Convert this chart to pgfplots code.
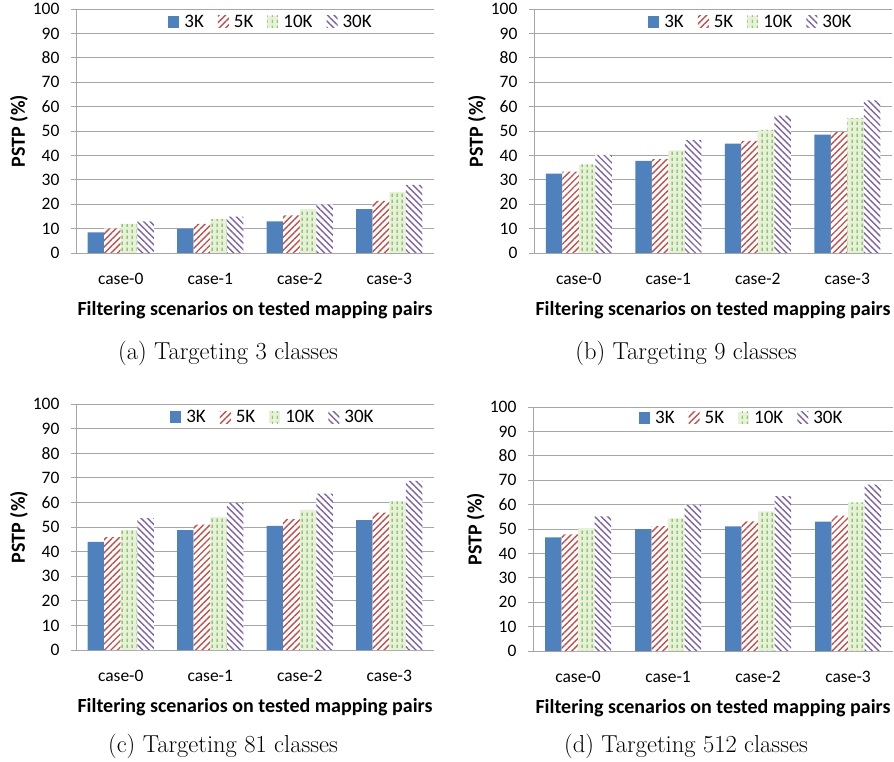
\documentclass[border=0pt]{standalone}
\usepackage{pgfplots}
\pgfplotsset{compat=1.18}
\usepackage{pgfplotstable}
\usepackage{fontspec}
\newfontfamily\carlito{Carlito}
\usetikzlibrary{patterns,patterns.meta}

\definecolor{cblue}{HTML}{4F81BD}
\definecolor{cred}{HTML}{C0504D}
\definecolor{cgreen}{HTML}{5FAE3A}
\definecolor{cgreenl}{HTML}{E6F1D8}
\definecolor{cpurple}{HTML}{8064A2}
\definecolor{cgrid}{HTML}{A6A6A6}

\pgfdeclarepatternformonly{vdash}{\pgfpointorigin}{\pgfqpoint{5pt}{6pt}}{\pgfqpoint{5pt}{6pt}}{%
  \pgfsetlinewidth{1pt}%
  \pgfpathmoveto{\pgfqpoint{2.5pt}{0pt}}%
  \pgfpathlineto{\pgfqpoint{2.5pt}{3.8pt}}%
  \pgfusepath{stroke}}

\pgfplotstableread{
x k3 k5 k10 k30
0 8.5 10.1 11.9 13.0
1 10.0 11.9 13.9 14.9
2 13.0 15.4 18.0 19.9
3 18.0 21.4 25.1 27.9
}\tabA
\pgfplotstableread{
x k3 k5 k10 k30
0 32.5 33.3 36.3 40.2
1 37.8 38.5 42.1 46.3
2 44.8 46.0 50.5 56.3
3 48.5 49.5 55.3 62.6
}\tabB
\pgfplotstableread{
x k3 k5 k10 k30
0 44.0 45.9 48.7 53.6
1 48.7 51.0 54.0 59.8
2 50.5 53.2 57.0 63.6
3 52.8 55.8 60.4 68.8
}\tabC
\pgfplotstableread{
x k3 k5 k10 k30
0 46.6 47.8 50.4 55.2
1 49.9 51.2 54.4 60.0
2 51.1 53.1 57.2 63.5
3 53.0 55.5 60.9 68.2
}\tabD

\pgfplotsset{
  s3k/.style={fill=cblue, draw=none},
  s5k/.style={fill=white, draw=none, postaction={pattern={Lines[angle=45,distance=4.6pt,line width=1.4pt]}, pattern color=cred}},
  s10k/.style={fill=cgreenl, draw=none, postaction={pattern=vdash, pattern color=cgreen}},
  s30k/.style={fill=white, draw=none, postaction={pattern={Lines[angle=-45,distance=4.6pt,line width=1.4pt]}, pattern color=cpurple}},
  myax/.style={
    scale only axis, width=358pt, height=244pt,
    ymin=0, ymax=100, ytick={0,10,...,100},
    xmin=-0.5, xmax=3.5, xtick={0,1,2,3},
    xticklabels={case-0,case-1,case-2,case-3},
    axis x line*=bottom, axis y line*=left,
    axis line style={cgrid, line width=0.9pt, -},
    ymajorgrids, grid style={cgrid, line width=0.9pt},
    major tick length=5pt, tick align=outside,
    xtick style={draw=none}, ytick style={cgrid, line width=0.9pt},
    tick label style={font=\carlito\fontsize{17.5}{20}\selectfont},
    xticklabel style={yshift=-12pt},
    yticklabel style={xshift=-8pt},
    /pgf/number format/assume math mode=true,
    ybar=0pt, bar width=16.5pt,
    xlabel={Filtering scenarios on tested mapping pairs},
    ylabel={PSTP (\%)},
    label style={font=\carlito\bfseries\fontsize{20}{22}\selectfont},
    xlabel style={at={(axis description cs:0.5,-0.234)}, anchor=center},
    ylabel style={at={(axis description cs:-0.159,0.5)}, anchor=center},
    legend columns=4,
    legend style={draw=none, fill=none, font=\carlito\fontsize{19}{21}\selectfont,
      /tikz/every even column/.append style={column sep=12pt},
      /tikz/every odd column/.append style={column sep=3pt}},
    legend image code/.code={\path[##1] (0pt,-6pt) rectangle (11pt,6pt);},
  },
}

\begin{document}
\begin{tikzpicture}
\useasboundingbox (0,0) rectangle (894pt,761pt);

% (a)
\begin{axis}[myax, at={(76pt,508pt)}, anchor=south west,
  legend style={at={(0.545,0.947)}, anchor=center}]
\addplot[s3k] table[x=x,y=k3]{\tabA};
\addplot[s5k] table[x=x,y=k5]{\tabA};
\addplot[s10k] table[x=x,y=k10]{\tabA};
\addplot[s30k] table[x=x,y=k30]{\tabA};
\legend{3K,5K,10K,30K}
\end{axis}

% (b)
\begin{axis}[myax, at={(534pt,508pt)}, anchor=south west,
  legend style={at={(0.606,0.947)}, anchor=center}]
\addplot[s3k] table[x=x,y=k3]{\tabB};
\addplot[s5k] table[x=x,y=k5]{\tabB};
\addplot[s10k] table[x=x,y=k10]{\tabB};
\addplot[s30k] table[x=x,y=k30]{\tabB};
\legend{3K,5K,10K,30K}
\end{axis}

% (c)
\begin{axis}[myax, at={(76pt,111pt)}, anchor=south west, height=246pt,
  legend style={at={(0.55,0.947)}, anchor=center}]
\addplot[s3k] table[x=x,y=k3]{\tabC};
\addplot[s5k] table[x=x,y=k5]{\tabC};
\addplot[s10k] table[x=x,y=k10]{\tabC};
\addplot[s30k] table[x=x,y=k30]{\tabC};
\legend{3K,5K,10K,30K}
\end{axis}

% (d)
\begin{axis}[myax, at={(533pt,110pt)}, anchor=south west, width=360pt,
  legend style={at={(0.58,0.955)}, anchor=center}]
\addplot[s3k] table[x=x,y=k3]{\tabD};
\addplot[s5k] table[x=x,y=k5]{\tabD};
\addplot[s10k] table[x=x,y=k10]{\tabD};
\addplot[s30k] table[x=x,y=k30]{\tabD};
\legend{3K,5K,10K,30K}
\end{axis}

\node[font=\fontsize{24.5}{28}\selectfont] at (228pt,408pt) {(a) Targeting 3 classes};
\node[font=\fontsize{24.5}{28}\selectfont] at (686pt,408pt) {(b) Targeting 9 classes};
\node[font=\fontsize{24.5}{28}\selectfont] at (223pt,15pt) {(c) Targeting 81 classes};
\node[font=\fontsize{24.5}{28}\selectfont] at (686pt,15pt) {(d) Targeting 512 classes};
\end{tikzpicture}
\end{document}
